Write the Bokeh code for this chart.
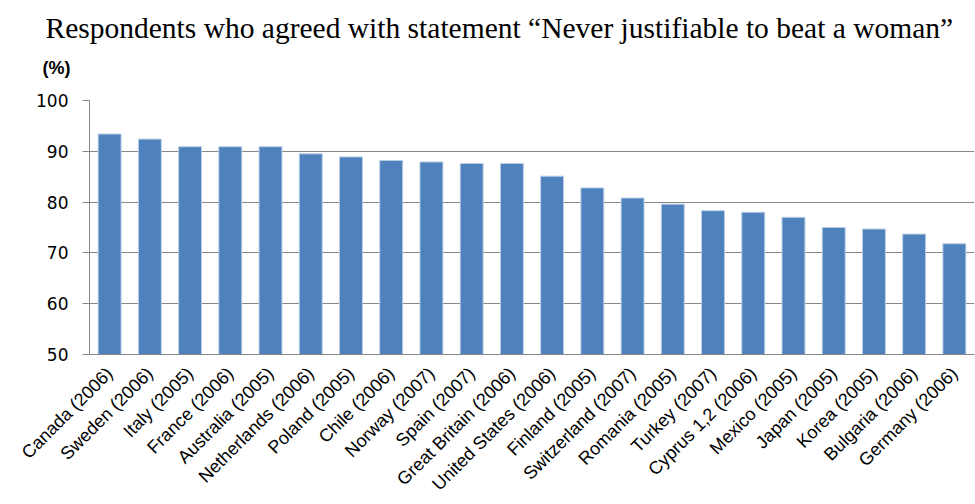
from bokeh.plotting import figure
from bokeh.models import Range1d, FactorRange, ColumnDataSource, Title
from bokeh.embed import file_html
from bokeh.resources import INLINE
from math import pi

countries = ["Canada (2006)", "Sweden (2006)", "Italy (2005)", "France (2006)", "Australia (2005)",
             "Netherlands (2006)", "Poland (2005)", "Chile (2006)", "Norway (2007)", "Spain (2007)",
             "Great Britain (2006)", "United States (2006)", "Finland (2005)", "Switzerland (2007)",
             "Romania (2005)", "Turkey (2007)", "Cyprus 1,2 (2006)", "Mexico (2005)", "Japan (2005)",
             "Korea (2005)", "Bulgaria (2006)", "Germany (2006)"]
values = [93.4, 92.4, 90.9, 90.9, 90.9, 89.5, 88.9, 88.2, 87.9, 87.6, 87.6,
          85.1, 82.8, 80.8, 79.6, 78.3, 78.0, 77.0, 75.0, 74.7, 73.7, 71.8]
y_ticks = [50, 60, 70, 80, 90, 100]

title_text = "Respondents who agreed with statement \u201cNever justifiable to beat a woman\u201d"
unit_text = "(%)"

src = ColumnDataSource(dict(x=countries, top=values))

p = figure(width=975, height=504, x_range=FactorRange(*countries, range_padding=0),
           y_range=Range1d(50, 100), output_backend="svg", toolbar_location=None, title=None,
           min_border_left=89, min_border_right=1, min_border_top=100, min_border_bottom=149)
p.outline_line_color = None
p.background_fill_color = "white"

p.vbar(x="x", top="top", bottom=50, width=0.57, source=src,
       fill_color="#4F81BD", line_color="#B9CDE5", line_width=1)

p.xgrid.grid_line_color = None
p.ygrid.grid_line_color = "#868686"
p.ygrid.grid_line_width = 1
p.yaxis.ticker = y_ticks
p.yaxis.axis_line_color = "#868686"
p.yaxis.major_tick_line_color = "#868686"
p.yaxis.major_tick_out = 7
p.yaxis.major_tick_in = 0
p.yaxis.minor_tick_line_color = None
p.yaxis.major_label_text_font = "DejaVu Sans"
p.yaxis.major_label_text_font_size = "17px"
p.yaxis.major_label_text_color = "#000000"
p.yaxis.major_label_standoff = 14

p.xaxis.axis_line_color = "#868686"
p.xaxis.major_tick_line_color = None
p.xaxis.major_label_orientation = pi / 4
p.xaxis.major_label_text_font = "Liberation Sans"
p.xaxis.major_label_text_font_size = "18px"
p.xaxis.major_label_text_color = "#000000"
p.xaxis.major_label_standoff = 10

p.add_layout(Title(text=unit_text, align="left", offset=-47, standoff=45,
                   text_font="Liberation Sans", text_font_size="18px", text_font_style="bold",
                   text_color="#000000"), "above")
p.add_layout(Title(text=title_text, align="left", offset=-44, standoff=-21,
                   text_font="Liberation Serif", text_font_size="29.5px", text_font_style="normal",
                   text_color="#000000"), "above")

open("out.html", "w").write(file_html(p, INLINE))
